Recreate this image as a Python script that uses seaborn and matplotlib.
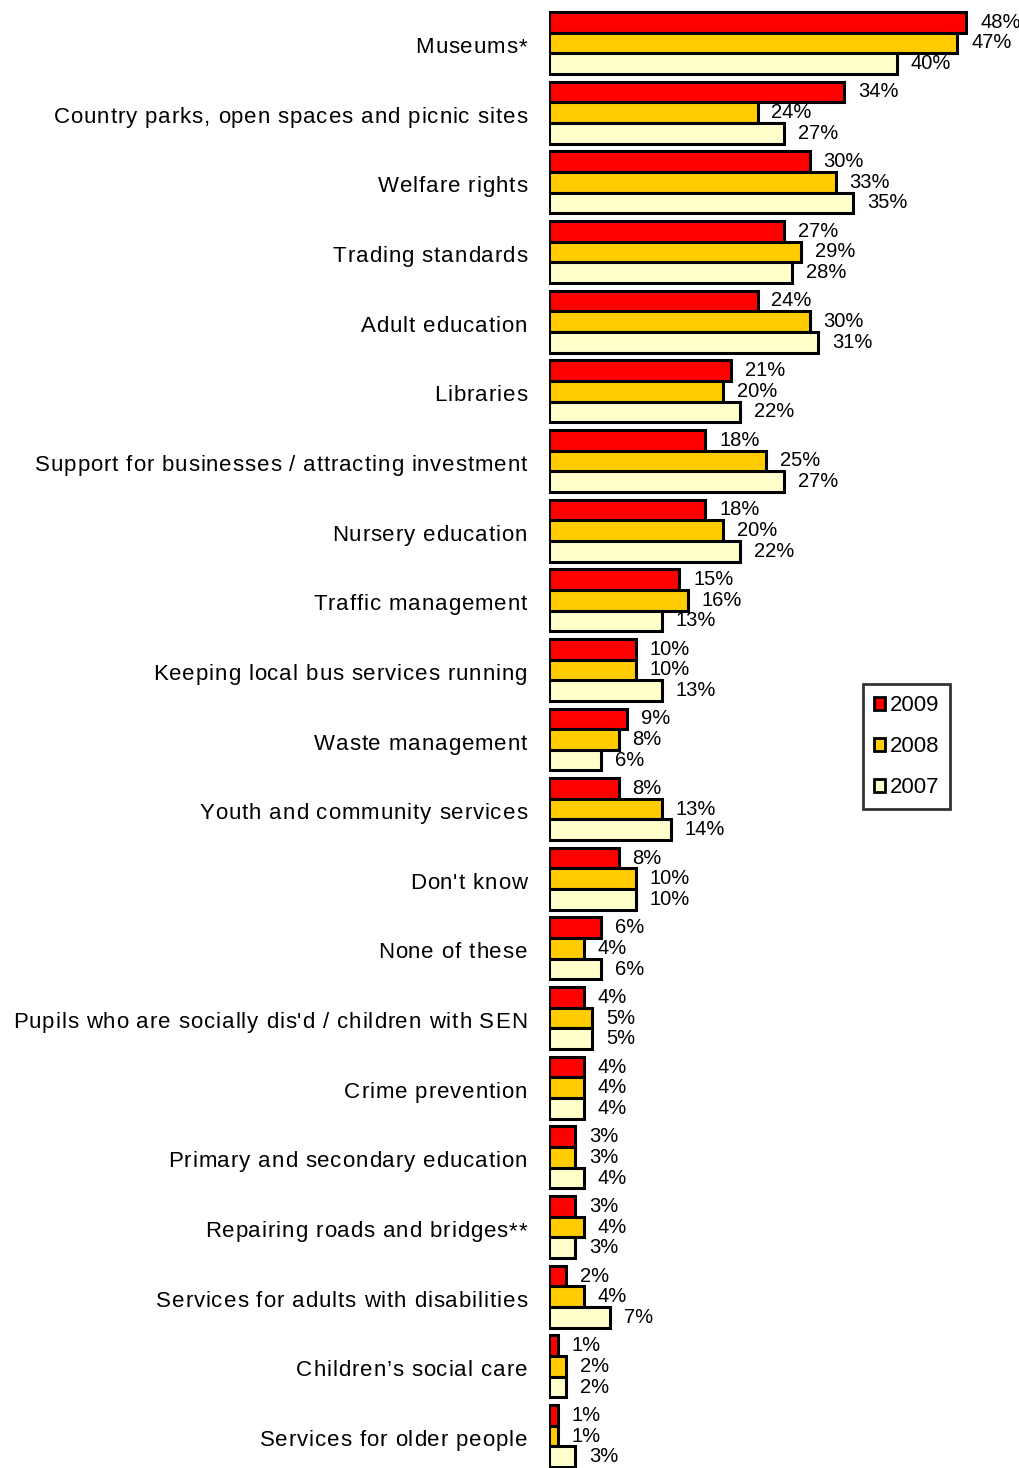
import matplotlib
matplotlib.use("Agg")
import matplotlib.pyplot as plt
from matplotlib.patches import Patch
from matplotlib.font_manager import FontProperties
from matplotlib.transforms import blended_transform_factory, IdentityTransform
import seaborn as sns
import pandas as pd

categories = [
    "Museums*",
    "Country parks, open spaces and picnic sites",
    "Welfare rights",
    "Trading standards",
    "Adult education",
    "Libraries",
    "Support for businesses / attracting investment",
    "Nursery education",
    "Traffic management",
    "Keeping local bus services running",
    "Waste management",
    "Youth and community services",
    "Don't know",
    "None of these",
    "Pupils who are socially dis'd / children with SEN",
    "Crime prevention",
    "Primary and secondary education",
    "Repairing roads and bridges**",
    "Services for adults with disabilities",
    "Children\u2019s social care",
    "Services for older people",
]
years = ["2009", "2008", "2007"]
values_2009 = [48, 34, 30, 27, 24, 21, 18, 18, 15, 10, 9, 8, 8, 6, 4, 4, 3, 3, 2, 1, 1]
values_2008 = [47, 24, 33, 29, 30, 20, 25, 20, 16, 10, 8, 13, 10, 4, 5, 4, 3, 4, 4, 2, 1]
values_2007 = [40, 27, 35, 28, 31, 22, 27, 22, 13, 13, 6, 14, 10, 6, 5, 4, 4, 3, 7, 2, 3]
colors = ["#FF0000", "#FFCC00", "#FFFFCC"]

rows = []
for yr, vals in zip(years, [values_2009, values_2008, values_2007]):
    for cat, v in zip(categories, vals):
        rows.append({"Service": cat, "Year": yr, "Percent": v})
df = pd.DataFrame(rows)

sns.set_theme(style="white")
plt.rcParams["font.family"] = ["Liberation Sans", "DejaVu Sans"]
plt.rcParams["text.color"] = "black"

W, H = 1020, 1468
DPI = 100
fig = plt.figure(figsize=(W / DPI, H / DPI), dpi=DPI)
left_px = 549
ax = fig.add_axes([left_px / W, 0, 1 - left_px / W, 1])

sns.barplot(data=df, y="Service", x="Percent", hue="Year",
            order=categories, hue_order=years, palette=colors, saturation=1,
            orient="h", width=0.89, edgecolor="black", linewidth=2.2,
            ax=ax, legend=False, errorbar=None)

pitch = 69.65
top_center = 43
ax.set_ylim((H - top_center) / pitch, -top_center / pitch)
ax.set_xlim(0, (W - left_px) / 8.69)

for cont in ax.containers:
    ax.bar_label(cont, fmt="%d%%", padding=10, fontsize=14.5, color="black")

ax.set_xlabel("")
ax.set_ylabel("")
ax.set_xticks([])
ax.set_yticks([])
for s in ax.spines.values():
    s.set_visible(False)

# Category names, set character by character with a little extra tracking
renderer = fig.canvas.get_renderer()
fp = FontProperties(family="Liberation Sans", size=16)
tracking = 0.9
right_px = 527
baseline_shift = 10.0 / pitch
trans = blended_transform_factory(IdentityTransform(), ax.transData)
for i, name in enumerate(categories):
    widths = [renderer.get_text_width_height_descent(c, fp, ismath=False)[0]
              for c in name]
    x = right_px - (sum(widths) + tracking * (len(name) - 1))
    for ch, w in zip(name, widths):
        ax.text(x, i + baseline_shift, ch, transform=trans, ha="left",
                va="baseline", fontproperties=fp, color="black", clip_on=False)
        x += w + tracking

handles = [Patch(facecolor=c, edgecolor="black", linewidth=2) for c in colors]
leg = fig.legend(handles, years, loc="upper left",
                 bbox_to_anchor=(863 / W, 1 - 684 / H),
                 frameon=True, fontsize=16, handlelength=0.5, handleheight=0.5,
                 handletextpad=0.2, labelspacing=0.9, borderpad=0.5,
                 fancybox=False, borderaxespad=0)
for t in leg.get_texts():
    t.set_color("black")
leg.get_frame().set_edgecolor("black")
leg.get_frame().set_linewidth(2)

fig.savefig("out.png", dpi=DPI)
